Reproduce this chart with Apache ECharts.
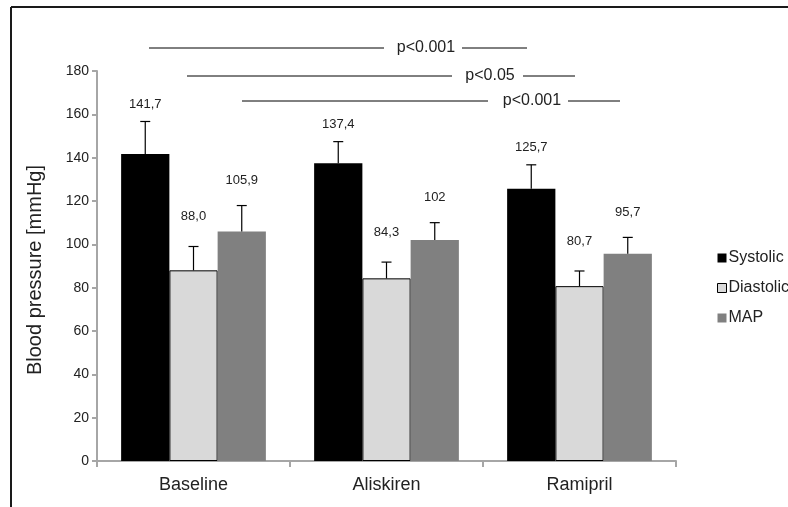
<!DOCTYPE html>
<html><head><meta charset="utf-8">
<script src="https://cdn.jsdelivr.net/npm/echarts@6/dist/echarts.min.js"></script>
<style>html,body{margin:0;padding:0;background:#fff}#c{width:788px;height:507px}</style>
</head><body><div id="c"></div>
<script>
var categories = ['Baseline', 'Aliskiren', 'Ramipril'];
var seriesNames = ['Systolic', 'Diastolic', 'MAP'];
var systolic = [141.7, 137.4, 125.7];
var diastolic = [88.0, 84.3, 80.7];
var mapValues = [105.9, 102, 95.7];
var systolicSD = [15, 10, 11];
var diastolicSD = [11, 7.5, 7];
var mapSD = [12, 8, 7.5];
var systolicLabels = ['141,7', '137,4', '125,7'];
var diastolicLabels = ['88,0', '84,3', '80,7'];
var mapLabels = ['105,9', '102', '95,7'];
var yTicks = [0, 180, 20];
var pValues = ['p<0.001', 'p<0.05', 'p<0.001'];

var FONT = '"Liberation Sans", Arial, sans-serif';
var colors = ['#000000', '#d9d9d9', '#808080'];
var values = [systolic, diastolic, mapValues];
var sds = [systolicSD, diastolicSD, mapSD];
var labels = [systolicLabels, diastolicLabels, mapLabels];
var labelOffsets = [17, 30, 25];

var chart = echarts.init(document.getElementById('c'), null, {renderer: 'canvas'});

function errSeries(si) {
  var data = categories.map(function (c, i) { return [i, values[si][i], sds[si][i]]; });
  return {
    type: 'custom',
    name: seriesNames[si] + ' err',
    z: 5,
    silent: true,
    data: data,
    encode: {x: 0, y: 1},
    renderItem: function (params, api) {
      var idx = api.value(0);
      var v = api.value(1);
      var sd = api.value(2);
      var cw = api.size([1, 0])[0];
      var bw = cw * 0.75 / 3;
      var center = api.coord([idx, 0])[0] - cw * 0.375 + bw * (si + 0.5);
      var yTop = api.coord([idx, v])[1];
      var yErr = api.coord([idx, v + sd])[1];
      return {
        type: 'group',
        children: [
          {type: 'line', shape: {x1: center, y1: yTop, x2: center, y2: yErr}, style: {stroke: '#000', lineWidth: 1.2}},
          {type: 'line', shape: {x1: center - 5, y1: yErr, x2: center + 5, y2: yErr}, style: {stroke: '#000', lineWidth: 1.2}},
          {type: 'text', x: center, y: yErr - labelOffsets[si], style: {text: labels[si][params.dataIndex], font: '13px ' + FONT, fill: '#222', align: 'center', verticalAlign: 'middle'}}
        ]
      };
    }
  };
}

function barSeries(si) {
  return {
    type: 'bar',
    name: seriesNames[si],
    data: values[si],
    barGap: '0%',
    barCategoryGap: '25%',
    itemStyle: {color: colors[si], borderColor: si === 1 ? '#000' : colors[si], borderWidth: si === 1 ? 1 : 0},
    emphasis: {disabled: true}
  };
}

var sig = [
  {y: 48, x1: 149, x2: 384, tx: 426, x3: 462, x4: 527, t: pValues[0]},
  {y: 76, x1: 187, x2: 452, tx: 490, x3: 523, x4: 575, t: pValues[1]},
  {y: 101, x1: 242, x2: 488, tx: 532, x3: 568, x4: 620, t: pValues[2]}
];
var graphics = [
  {type: 'line', shape: {x1: 11, y1: 7, x2: 800, y2: 7}, style: {stroke: '#1a1a1a', lineWidth: 2}},
  {type: 'line', shape: {x1: 11, y1: 7, x2: 11, y2: 520}, style: {stroke: '#1a1a1a', lineWidth: 2}}
];
sig.forEach(function (s) {
  graphics.push({type: 'line', shape: {x1: s.x1, y1: s.y, x2: s.x2, y2: s.y}, style: {stroke: '#000', lineWidth: 1}});
  graphics.push({type: 'line', shape: {x1: s.x3, y1: s.y, x2: s.x4, y2: s.y}, style: {stroke: '#000', lineWidth: 1}});
  graphics.push({type: 'text', x: s.tx, y: s.y, style: {text: s.t, font: '16px ' + FONT, fill: '#222', align: 'center', verticalAlign: 'middle'}});
});

chart.setOption({
  backgroundColor: '#ffffff',
  animation: false,
  grid: {left: 97, right: 112, top: 71, bottom: 46, containLabel: false},
  legend: {
    orient: 'vertical', left: 712, top: 245,
    itemWidth: 9, itemHeight: 9, itemGap: 14,
    icon: 'rect',
    textStyle: {fontFamily: FONT, fontSize: 16, color: '#222', padding: [0, 0, 0, -3]},
    data: [
      {name: 'Systolic'},
      {name: 'Diastolic', itemStyle: {color: '#d9d9d9', borderColor: '#000', borderWidth: 1}},
      {name: 'MAP'}
    ]
  },
  xAxis: {
    type: 'category',
    data: categories,
    axisLine: {lineStyle: {color: '#a6a6a6', width: 2}},
    axisTick: {show: true, length: 6, lineStyle: {color: '#a6a6a6', width: 2}},
    axisLabel: {fontFamily: FONT, fontSize: 18, color: '#222', margin: 15},
    splitLine: {show: false}
  },
  yAxis: {
    type: 'value',
    min: yTicks[0], max: yTicks[1], interval: yTicks[2],
    name: 'Blood pressure [mmHg]',
    nameLocation: 'middle',
    nameGap: 52,
    nameTextStyle: {fontFamily: FONT, fontSize: 20, color: '#222', padding: [0, 8, 0, 0]},
    axisLine: {show: true, lineStyle: {color: '#a6a6a6', width: 2}},
    axisTick: {show: true, length: 5, lineStyle: {color: '#a6a6a6', width: 2}},
    axisLabel: {fontFamily: FONT, fontSize: 14, color: '#222', margin: 8},
    splitLine: {show: false}
  },
  series: [barSeries(0), barSeries(1), barSeries(2), errSeries(0), errSeries(1), errSeries(2)],
  graphic: graphics
});
</script>
</body></html>
